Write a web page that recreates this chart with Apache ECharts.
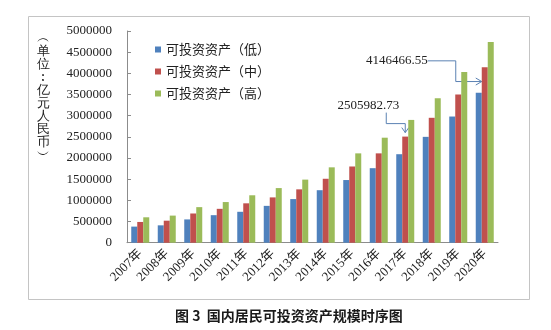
<!DOCTYPE html>
<html><head><meta charset="utf-8">
<script src="https://cdn.jsdelivr.net/npm/echarts@6/dist/echarts.min.js"></script>
<style>html,body{margin:0;padding:0;background:#fff}#c{width:551px;height:330px}</style>
</head><body><div id="c"></div>
<script>
const categories = ['2007年','2008年','2009年','2010年','2011年','2012年','2013年','2014年','2015年','2016年','2017年','2018年','2019年','2020年'];
const seriesNames = ['可投资资产（低）','可投资资产（中）','可投资资产（高）'];
const lowValues  = [380000, 410000, 550000, 650000, 730000, 870000, 1030000, 1240000, 1480000, 1760000, 2090000, 2500000, 2980000, 3540000];
const midValues  = [490000, 520000, 690000, 800000, 930000, 1070000, 1260000, 1510000, 1800000, 2110000, 2505982.73, 2950000, 3500000, 4146466.55];
const highValues = [600000, 640000, 840000, 960000, 1120000, 1290000, 1490000, 1780000, 2110000, 2480000, 2900000, 3410000, 4030000, 4740000];
const yMin = 0, yMax = 5000000, yInterval = 500000;
const yAxisTitle = '︵单位︰亿元人民币︶';
const chartTitle = '图 3  国内居民可投资资产规模时序图';
const callouts = [{category: '2017年'}, {category: '2020年'}];

const colors = ['#4F81BD', '#C0504D', '#9BBB59'];
const serif = '"Liberation Serif", "Noto Sans CJK SC", serif';
const chart = echarts.init(document.getElementById('c'));
const axisGray = '#8c8c8c';

chart.setOption({
  animation: false,
  backgroundColor: '#fff',
  color: colors,
  title: {
    text: chartTitle, left: 170, top: 304,
    textStyle: {fontSize: 14, fontWeight: 'bold', color: '#1a1a1a', fontFamily: '"Noto Sans CJK SC", serif'}
  },
  legend: {
    orient: 'vertical', left: 150, top: 38,
    itemWidth: 6, itemHeight: 6, itemGap: 9, itemTextGap: 4,
    icon: 'rect',
    textStyle: {fontSize: 13, lineHeight: 13, color: '#222', fontFamily: '"Noto Sans CJK SC", serif'},
    data: seriesNames
  },
  grid: {left: 127, right: 53, top: 31, bottom: 87.3, containLabel: false},
  xAxis: {
    type: 'category', data: categories,
    axisLine: {lineStyle: {color: axisGray}},
    axisTick: {inside: true, length: 4, lineStyle: {color: axisGray}},
    axisLabel: {rotate: 45, interval: 0, margin: 9, fontSize: 13, color: '#222', fontFamily: serif}
  },
  yAxis: {
    type: 'value', min: yMin, max: yMax, interval: yInterval,
    splitLine: {show: false},
    axisLine: {show: true, lineStyle: {color: axisGray}},
    axisTick: {show: true, inside: true, length: 4, lineStyle: {color: axisGray}},
    axisLabel: {margin: 15, fontSize: 13, color: '#222', fontFamily: serif, formatter: v => String(v)}
  },
  series: [lowValues, midValues, highValues].map((d, i) => ({
    name: seriesNames[i], type: 'bar', data: d, barWidth: 6, barGap: '0%'
  })),
  graphic: [
    {id: 'frame', type: 'rect', shape: {x: 28.5, y: 16.5, width: 501, height: 283}, style: {fill: 'none', stroke: '#c4c4c4', lineWidth: 1}, silent: true, z: -1},
    {id: 'yname', type: 'text', x: 43, y: 32, style: {text: yAxisTitle.split('').join('\n'), fontSize: 13, lineHeight: 13, align: 'center', fill: '#222', font: '13px "Noto Sans CJK SC"'}}
  ]
});

// callouts anchored to the middle-series bars
const arrowColor = '#5b82b3';
const g = [];
callouts.forEach((c, k) => {
  const idx = categories.indexOf(c.category);
  const v = midValues[idx];
  const [ax, ay] = chart.convertToPixel({gridIndex: 0}, [idx, v]);
  const label = v.toFixed(2);
  let pts, head, tx, ty, align;
  if (k === 0) {
    const tip = [ax, ay - 4];
    pts = [[ax - 19, ay - 24], [ax - 19, ay - 13], [ax, ay - 13], tip];
    head = [[ax - 3.5, ay - 9], tip, [ax + 3.5, ay - 9]];
    tx = ax - 37; ty = ay - 31; align = 'center';
  } else {
    const tip = [ax - 3, ay + 14.4];
    pts = [[ax - 57, ay - 6.3], [ax - 29, ay - 6.3], [ax - 29, ay + 14.4], tip];
    head = [[tip[0] - 6, tip[1] - 3.5], tip, [tip[0] - 6, tip[1] + 3.5]];
    tx = ax - 57; ty = ay - 6.3; align = 'right';
  }
  g.push({id: 'cl' + k, type: 'polyline', shape: {points: pts}, style: {stroke: arrowColor, lineWidth: 1, fill: 'none'}, silent: true});
  g.push({id: 'ch' + k, type: 'polyline', shape: {points: head}, style: {stroke: arrowColor, lineWidth: 1, fill: 'none'}, silent: true});
  g.push({id: 'ct' + k, type: 'text', x: tx, y: ty, style: {text: label, align: align, verticalAlign: 'middle', fill: '#222', font: '13px "Liberation Serif"'}});
});
chart.setOption({graphic: g});
</script></body></html>
